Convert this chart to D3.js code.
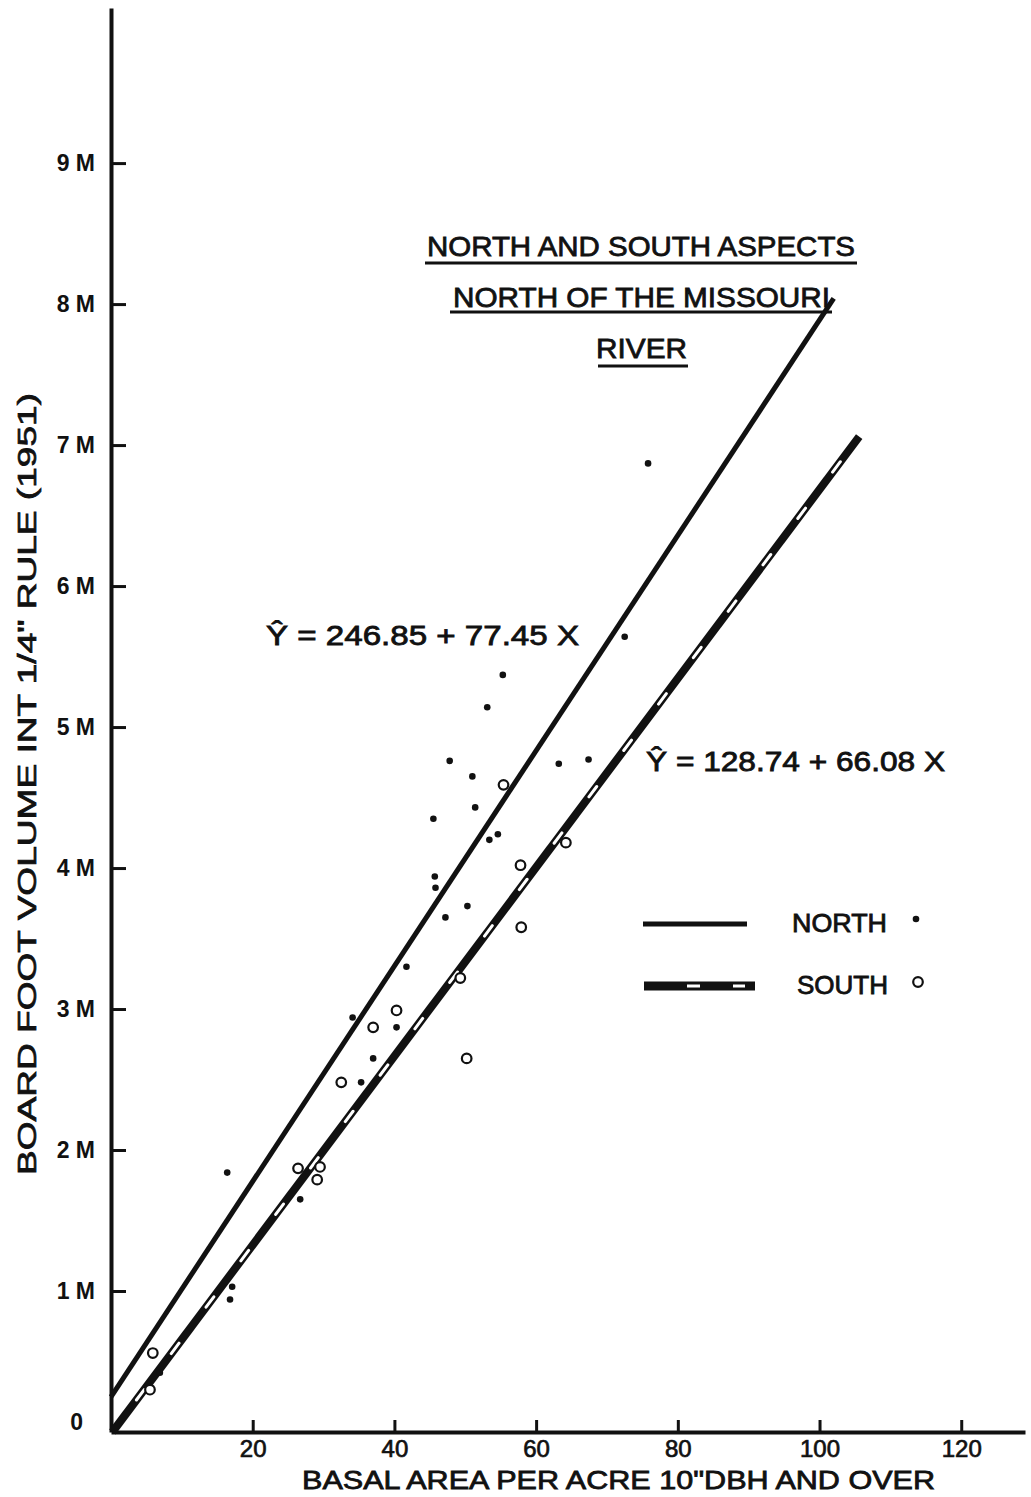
<!DOCTYPE html>
<html>
<head>
<meta charset="utf-8">
<script src="https://cdn.jsdelivr.net/npm/d3@7"></script>
<style>
  body { margin: 0; background: #fff; }
  svg text { font-family: "Liberation Sans", Arial, sans-serif; fill: #111; }
</style>
</head>
<body>
<svg id="chart" width="1031" height="1497"></svg>
<script>
// basal area ticks and volume ticks (thousand board feet)
var xTicks = [20, 40, 60, 80, 100, 120];
var yTicks = [0, 1, 2, 3, 4, 5, 6, 7, 8, 9];
var yTickLabels = ['0', '1 M', '2 M', '3 M', '4 M', '5 M', '6 M', '7 M', '8 M', '9 M'];

// north aspect plots: [basal area, volume in M]
var northPoints = [
  [75.8, 6.87], [72.5, 5.64], [55.3, 5.37], [53.1, 5.14], [47.8, 4.76],
  [51.0, 4.65], [51.4, 4.43], [45.5, 4.35], [63.2, 4.74], [67.4, 4.77],
  [54.6, 4.24], [53.4, 4.20], [45.7, 3.94], [45.8, 3.86], [50.3, 3.73],
  [47.2, 3.65], [41.7, 3.30], [34.1, 2.94], [40.3, 2.87], [37.0, 2.65],
  [35.3, 2.48], [16.4, 1.84], [26.7, 1.65], [17.1, 1.03], [16.8, 0.94],
  [6.9, 0.42]
];
// south aspect plots
var southPoints = [
  [55.4, 4.59], [64.2, 4.18], [57.8, 4.02], [57.9, 3.58], [49.3, 3.22],
  [40.3, 2.99], [37.0, 2.87], [50.2, 2.65], [32.5, 2.48], [26.4, 1.87],
  [29.5, 1.88], [29.1, 1.79], [5.9, 0.56], [5.5, 0.30]
];

// fitted regression lines, end points
var northLine = [[0, 0.25], [102.0, 8.04]];
var southLine = [[0.2, 0], [105.6, 7.06]];

var svg = d3.select('#chart');
var x = d3.scaleLinear().domain([0, 129]).range([111, 1025]);
var y = d3.scaleLinear().domain([0, 10.1]).range([1432, 8]);

var line = d3.line()
  .x(function(d) { return x(d[0]); })
  .y(function(d) { return y(d[1]); });

// axes
var xAxis = svg.append('g')
  .attr('transform', 'translate(0,' + y(0) + ')')
  .call(d3.axisBottom(x).tickValues(xTicks).tickSizeInner(-12).tickSizeOuter(0).tickPadding(8));
var yAxis = svg.append('g')
  .attr('transform', 'translate(' + x(0) + ',0)')
  .call(d3.axisLeft(y).tickValues(yTicks).tickSizeInner(-15).tickSizeOuter(0).tickPadding(16)
    .tickFormat(function(d, i) { return yTickLabels[i]; }));

[xAxis, yAxis].forEach(function(a) {
  a.select('.domain').attr('stroke', '#111').attr('stroke-width', 4);
  a.selectAll('.tick line').attr('stroke', '#111').attr('stroke-width', 3);
  a.selectAll('.tick text').attr('font-size', 23).attr('font-weight', 'bold')
    .attr('font-family', '"Liberation Sans", Arial, sans-serif').attr('fill', '#111');
});
xAxis.selectAll('.tick text').attr('font-size', 24).attr('font-weight', 'normal')
  .attr('stroke', '#111').attr('stroke-width', 0.7);
yAxis.selectAll('.tick').filter(function(d) { return d === 0; }).select('line').remove();
yAxis.selectAll('.tick').filter(function(d) { return d === 0; }).select('text').attr('dy', '-0.1em').attr('x', -28);

// regression lines
svg.append('path').datum(northLine).attr('d', line)
  .attr('fill', 'none').attr('stroke', '#111').attr('stroke-width', 5);
svg.append('path').datum(southLine).attr('d', line)
  .attr('fill', 'none').attr('stroke', '#111').attr('stroke-width', 8);
svg.append('path').datum(southLine).attr('d', line)
  .attr('fill', 'none').attr('stroke', '#fff').attr('stroke-width', 3)
  .attr('stroke-linecap', 'round').attr('stroke-dasharray', '13 45').attr('stroke-dashoffset', -40);

// points
svg.append('g').selectAll('circle').data(northPoints).enter().append('circle')
  .attr('cx', function(d) { return x(d[0]); })
  .attr('cy', function(d) { return y(d[1]); })
  .attr('r', 3.3).attr('fill', '#111');
svg.append('g').selectAll('circle').data(southPoints).enter().append('circle')
  .attr('cx', function(d) { return x(d[0]); })
  .attr('cy', function(d) { return y(d[1]); })
  .attr('r', 4.8).attr('fill', '#fff').attr('stroke', '#111').attr('stroke-width', 2.2);

// lettering helper
function letter(txt, x0, x1, base, size) {
  return svg.append('text')
    .attr('x', x0).attr('y', base)
    .attr('font-size', size)
    .attr('textLength', x1 - x0).attr('lengthAdjust', 'spacingAndGlyphs')
    .attr('stroke', '#111').attr('stroke-width', 0.8)
    .text(txt);
}

// title block
letter('NORTH AND SOUTH ASPECTS', 427, 855, 256, 28);
letter('NORTH OF THE MISSOURI', 453, 830, 307, 28);
letter('RIVER', 596, 687, 358, 28);
var underlines = [[425, 857, 263], [450, 832, 312], [598, 688, 366]];
svg.append('g').selectAll('line').data(underlines).enter().append('line')
  .attr('x1', function(d) { return d[0]; }).attr('x2', function(d) { return d[1]; })
  .attr('y1', function(d) { return d[2]; }).attr('y2', function(d) { return d[2]; })
  .attr('stroke', '#111').attr('stroke-width', 3);

// equations
letter('\u0176 = 246.85 + 77.45 X', 266, 579, 645, 27);
letter('\u0176 = 128.74 + 66.08 X', 646, 945, 771, 27);

// legend
svg.append('line').attr('x1', 643).attr('x2', 747).attr('y1', 924).attr('y2', 924)
  .attr('stroke', '#111').attr('stroke-width', 5);
svg.append('line').attr('x1', 644).attr('x2', 755).attr('y1', 986).attr('y2', 986)
  .attr('stroke', '#111').attr('stroke-width', 9);
svg.append('line').attr('x1', 687).attr('x2', 745).attr('y1', 986).attr('y2', 986)
  .attr('stroke', '#fff').attr('stroke-width', 3).attr('stroke-dasharray', '13 33');
letter('NORTH', 792, 887, 932, 25);
letter('SOUTH', 797, 888, 994, 25);
svg.append('circle').attr('cx', 916).attr('cy', 919).attr('r', 3.3).attr('fill', '#111');
svg.append('circle').attr('cx', 918).attr('cy', 982).attr('r', 4.8)
  .attr('fill', '#fff').attr('stroke', '#111').attr('stroke-width', 2.2);

// axis titles
letter('BASAL AREA PER ACRE 10"DBH AND OVER', 302, 935, 1489, 26);
svg.append('text')
  .attr('transform', 'translate(36,1175) rotate(-90)')
  .attr('font-size', 25)
  .attr('textLength', 782).attr('lengthAdjust', 'spacingAndGlyphs')
  .attr('stroke', '#111').attr('stroke-width', 0.7)
  .text('BOARD FOOT VOLUME INT 1/4" RULE (1951)');
</script>
</body>
</html>
